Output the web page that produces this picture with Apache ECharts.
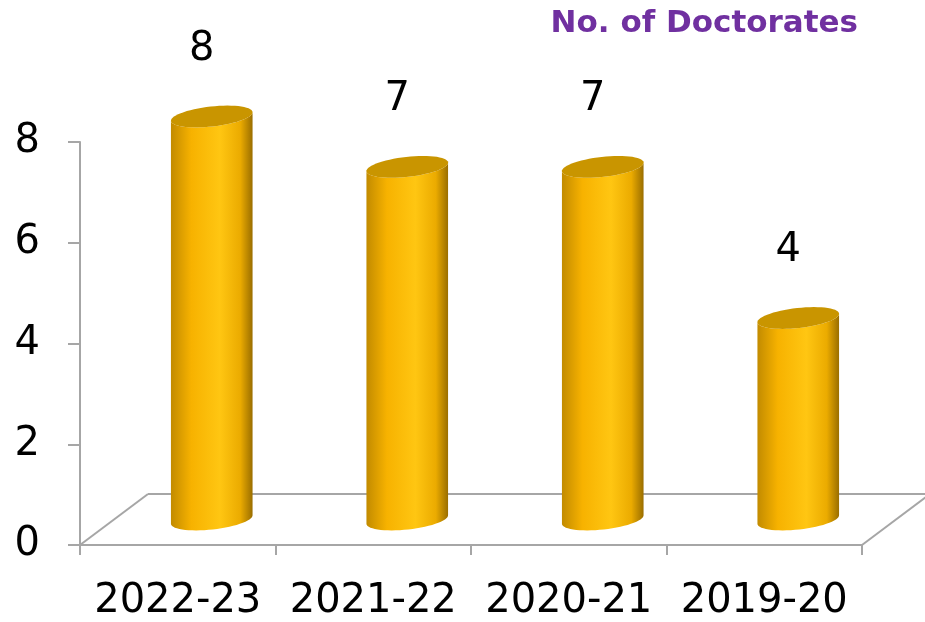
<!DOCTYPE html>
<html>
<head>
<meta charset="utf-8">
<script src="https://cdn.jsdelivr.net/npm/echarts@6/dist/echarts.min.js"></script>
<style>
html, body { margin: 0; padding: 0; background: #fff; }
#chart { width: 925px; height: 622px; }
</style>
</head>
<body>
<div id="chart"></div>
<script>
var years = ["2022-23", "2021-22", "2020-21", "2019-20"];
var doctorates = [8, 7, 7, 4];
var yTicks = [0, 2, 4, 6, 8];

// 3D look: floor depth vector, cylinders sit at mid depth
var depth = [68, -51];
var tilt = 0.11;

function ellipsePts(cx, cy, rx, ry, t0, t1, n) {
    var pts = [];
    for (var i = 0; i <= n; i++) {
        var t = t0 + (t1 - t0) * i / n;
        var ex = rx * Math.cos(t), ey = ry * Math.sin(t);
        pts.push([cx + ex * Math.cos(tilt) + ey * Math.sin(tilt), cy - ex * Math.sin(tilt) + ey * Math.cos(tilt)]);
    }
    return pts;
}

var bodyFill = new echarts.graphic.LinearGradient(0, 0, 1, 0, [
    { offset: 0, color: "#c28b00" },
    { offset: 0.25, color: "#f7b200" },
    { offset: 0.6, color: "#ffc612" },
    { offset: 0.85, color: "#ebab00" },
    { offset: 1, color: "#9a6e00" }
]);

function renderCylinder(params, api) {
    var top = api.coord([api.value(0), api.value(1)]);
    var base = api.coord([api.value(0), 0]);
    var rx = api.size([1, 0])[0] * 0.21;
    var ry = 10;
    var cx = top[0] + depth[0] / 2;
    var ty = top[1] + depth[1] / 2;
    var by = base[1] + depth[1] / 2;
    var body = ellipsePts(cx, by, rx, ry, Math.PI, 0, 30)
        .concat(ellipsePts(cx, ty, rx, ry, 0, Math.PI, 30));
    return {
        type: "group",
        children: [
            { type: "polygon", shape: { points: body }, style: { fill: bodyFill } },
            { type: "polygon", shape: { points: ellipsePts(cx, ty, rx, ry, 0, Math.PI * 2, 60) }, style: { fill: "#c99500" } },
            {
                type: "text", x: cx - 10, y: ty - 67,
                style: { text: String(api.value(1)), fill: "#000", fontSize: 40, fontFamily: "DejaVu Sans", align: "center", verticalAlign: "middle" }
            }
        ]
    };
}

function renderFloor(params, api) {
    var c = params.coordSys;
    var x0 = c.x, x1 = c.x + c.width, y0 = c.y + c.height;
    var ln = { stroke: "#a6a6a6", lineWidth: 2 };
    return {
        type: "group",
        children: [
            { type: "line", shape: { x1: x0, y1: y0, x2: x0 + depth[0], y2: y0 + depth[1] }, style: ln },
            { type: "line", shape: { x1: x0 + depth[0], y1: y0 + depth[1], x2: x1 + depth[0], y2: y0 + depth[1] }, style: ln },
            { type: "line", shape: { x1: x1, y1: y0, x2: x1 + depth[0], y2: y0 + depth[1] }, style: ln }
        ]
    };
}

var chart = echarts.init(document.getElementById("chart"));
chart.setOption({
    animation: false,
    title: {
        text: "No. of Doctorates", right: 62, top: 3,
        textStyle: { color: "#7030a0", fontSize: 31, fontWeight: "bold", fontFamily: "DejaVu Sans" }
    },
    grid: { left: 80, right: 63, top: 142, bottom: 77 },
    xAxis: {
        type: "category", data: years,
        axisLine: { lineStyle: { color: "#a6a6a6", width: 2 } },
        axisTick: { show: true, interval: 0, length: 10, lineStyle: { color: "#a6a6a6", width: 2 } },
        axisLabel: { interval: 0, hideOverlap: false, color: "#000", fontSize: 40, fontFamily: "DejaVu Sans", margin: 37 }
    },
    yAxis: {
        type: "value", min: yTicks[0], max: yTicks[yTicks.length - 1], interval: 2,
        splitLine: { show: false },
        axisLine: { show: true, lineStyle: { color: "#a6a6a6", width: 2 } },
        axisTick: { show: true, length: 12, lineStyle: { color: "#a6a6a6", width: 2 } },
        axisLabel: { color: "#000", fontSize: 40, fontFamily: "DejaVu Sans", margin: 40 }
    },
    series: [
        { type: "custom", renderItem: renderFloor, data: [0], z: 1, silent: true },
        {
            type: "custom", renderItem: renderCylinder, z: 2,
            data: doctorates.map(function (v, i) { return [i, v]; })
        }
    ]
});
</script>
</body>
</html>
